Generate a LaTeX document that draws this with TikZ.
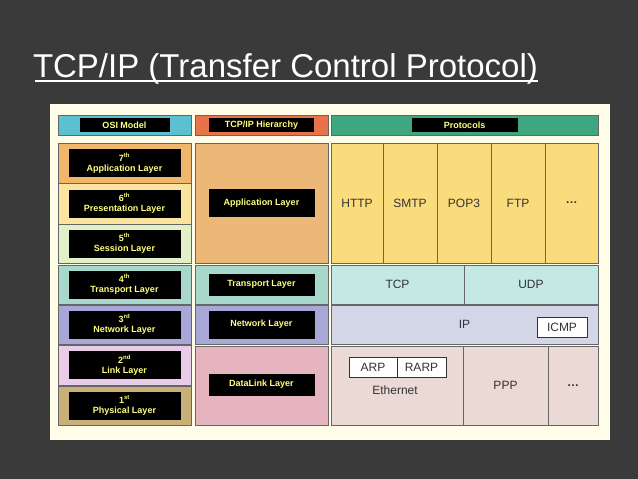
\documentclass[tikz,border=0pt]{standalone}
\usepackage{fontspec}
\setmainfont{Liberation Sans}
\usepackage{xcolor}
\usetikzlibrary{positioning}
\definecolor{slidebg}{HTML}{3A3A3A}
\definecolor{panel}{HTML}{FFFDE8}
\definecolor{hdosi}{HTML}{5BC0CF}
\definecolor{hdtcp}{HTML}{E8734A}
\definecolor{hdproto}{HTML}{3FA77F}
\definecolor{cseven}{HTML}{F0B66A}
\definecolor{csix}{HTML}{FBE3A0}
\definecolor{cfive}{HTML}{E2F0C8}
\definecolor{cfour}{HTML}{A8D8CC}
\definecolor{cthree}{HTML}{A8A8D8}
\definecolor{ctwo}{HTML}{E8CCE8}
\definecolor{cone}{HTML}{C8B078}
\definecolor{tapp}{HTML}{EBB877}
\definecolor{tlink}{HTML}{E6B4BE}
\definecolor{papp}{HTML}{FBDC7C}
\definecolor{ptrans}{HTML}{C4E8E4}
\definecolor{pnet}{HTML}{D2D6E6}
\definecolor{plink}{HTML}{EAD9D4}
\definecolor{labtext}{HTML}{FFFF80}
\begin{document}
\begin{tikzpicture}[
    x=1pt, y=-1pt,
    every node/.style={inner sep=0pt, outer sep=0pt},
    cell/.style={rectangle, draw=black!60, line width=0.8pt, anchor=north west},
    tag/.style={rectangle, fill=black, text=labtext, font=\fontsize{9}{10}\selectfont\bfseries, align=center},
    proto/.style={font=\fontsize{12}{13}\selectfont, text=black!80},
    whitebox/.style={rectangle, draw=black!80, fill=white, line width=0.8pt, anchor=north west, font=\fontsize{12}{13}\selectfont, text=black!80}
]
\fill[slidebg] (0,0) rectangle (638,479);
% title
\node[anchor=south west, text=white, font=\fontsize{33}{36}\selectfont] (title) at (33,84) {TCP/IP (Transfer Control Protocol)};
\draw[white, line width=1.4pt] (title.south west) ++(2,-3) coordinate (ul) -- (title.south east |- ul);
\fill[panel] (50,104) rectangle (610,440);

% header row
\node[cell, fill=hdosi, minimum width=133, minimum height=20] (hosi) at (58,115) {};
\node[cell, fill=hdtcp, minimum width=133, minimum height=20] (htcp) at (195,115) {};
\node[cell, fill=hdproto, minimum width=267, minimum height=20] (hproto) at (331,115) {};
\node[tag, minimum width=90, minimum height=14] at (hosi) {OSI Model};
\node[tag, minimum width=105, minimum height=14] at (htcp) {TCP/IP Hierarchy};
\node[tag, minimum width=106, minimum height=14] at (hproto) {Protocols};

% OSI model
\node[cell, fill=cseven, minimum width=133, minimum height=40] (osi7) at (58,143) {};
\node[cell, fill=csix, minimum width=133, minimum height=41] (osi6) at (58,183) {};
\node[cell, fill=cfive, minimum width=133, minimum height=39] (osi5) at (58,224) {};
\node[cell, fill=cfour, minimum width=133, minimum height=39] (osi4) at (58,265) {};
\node[cell, fill=cthree, minimum width=133, minimum height=39] (osi3) at (58,305) {};
\node[cell, fill=ctwo, minimum width=133, minimum height=40] (osi2) at (58,345) {};
\node[cell, fill=cone, minimum width=133, minimum height=39] (osi1) at (58,386) {};
\foreach \n/\num/\sfx/\name in {7/7/th/Application, 6/6/th/Presentation, 5/5/th/Session, 4/4/th/Transport, 3/3/rd/Network, 2/2/nd/Link, 1/1/st/Physical}
  \node[tag, minimum width=112, minimum height=28] at (osi\n) {\num\textsuperscript{\sfx}\\\name{} Layer};

% TCP/IP hierarchy
\node[cell, fill=tapp, minimum width=133, minimum height=120] (tcpapp) at (195,143) {};
\node[cell, fill=cfour, minimum width=133, minimum height=39] (tcptrans) at (195,265) {};
\node[cell, fill=cthree, minimum width=133, minimum height=39] (tcpnet) at (195,305) {};
\node[cell, fill=tlink, minimum width=133, minimum height=79] (tcplink) at (195,346) {};
\node[tag, minimum width=106, minimum height=28] at (tcpapp) {Application Layer};
\node[tag, minimum width=106, minimum height=22] at (tcptrans) {Transport Layer};
\node[tag, minimum width=106, minimum height=28] at (tcpnet) {Network Layer};
\node[tag, minimum width=106, minimum height=22] at ([yshift=1]tcplink) {DataLink Layer};

% protocols
\foreach \x/\w/\lab/\nm in {331/52/HTTP/http, 383/54/SMTP/smtp, 437/54/POP3/pop, 491/54/FTP/ftp, 545/53/\textbf{\dots}/more}
  \node[cell, fill=papp, minimum width=\w, minimum height=120, proto] (\nm) at (\x,143) {\lab};
\node[cell, fill=ptrans, minimum width=133, minimum height=39, proto] (tcp) at (331,265) {TCP};
\node[cell, fill=ptrans, minimum width=134, minimum height=39, proto] (udp) at (464,265) {UDP};
\node[cell, fill=pnet, minimum width=267, minimum height=39, proto] (ip) at (331,305) {IP};
\node[whitebox, minimum width=50, minimum height=20] (icmp) at (537,317) {ICMP};
\node[cell, fill=plink, minimum width=132, minimum height=79] (ether) at (331,346) {};
\node[cell, fill=plink, minimum width=85, minimum height=79, proto] (ppp) at (463,346) {PPP};
\node[cell, fill=plink, minimum width=50, minimum height=79, proto] (more2) at (548,346) {\textbf{\dots}};
\node[whitebox, minimum width=48, minimum height=20] (arp) at (349,357) {ARP};
\node[whitebox, minimum width=49, minimum height=20, right=0pt of arp] (rarp) {RARP};
\node[proto] (ethertext) at (395,390) {Ethernet};
\end{tikzpicture}
\end{document}
